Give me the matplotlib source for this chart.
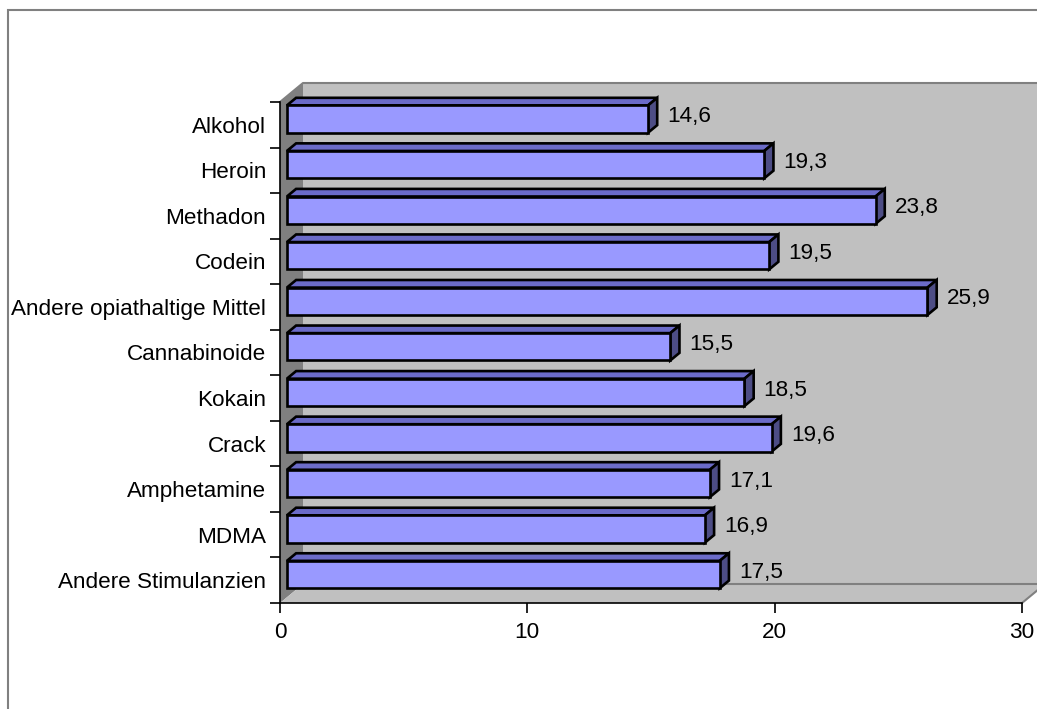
import matplotlib.pyplot as plt
import numpy as np
from matplotlib.patches import Polygon, Rectangle
from matplotlib.transforms import IdentityTransform

plt.rcParams['font.family'] = ['Liberation Sans', 'DejaVu Sans']

categories = ["Alkohol", "Heroin", "Methadon", "Codein", "Andere opiathaltige Mittel",
              "Cannabinoide", "Kokain", "Crack", "Amphetamine", "MDMA",
              "Andere Stimulanzien"]
values = [14.6, 19.3, 23.8, 19.5, 25.9, 15.5, 18.5, 19.6, 17.1, 16.9, 17.5]
xticks = [0, 10, 20, 30]

W, H = 1037, 709
fig = plt.figure(figsize=(W / 100, H / 100), dpi=100)
ax = fig.add_axes([280 / W, (H - 603) / H, (1022 - 280) / W, (603 - 102) / H])
n = len(categories)
ax.set_xlim(0, 30)
ax.set_ylim(n - 0.5, -0.5)
ax.patch.set_visible(False)

# depth offset of the 3D box (pixels)
DX, DY = 23, 19
FS = 16.2


def proj(v, c, d):
    x, y = ax.transData.transform((v, c))
    return (x + d * DX, y + d * DY)


def face(pts, color, ec, lw, z):
    p = Polygon([proj(*q) for q in pts], closed=True, facecolor=color,
                edgecolor=ec, linewidth=lw, transform=IdentityTransform(),
                zorder=z)
    p.set_clip_on(False)
    ax.add_patch(p)


lo, hi = -0.5, n - 0.5
# back wall, left wall, floor
face([(0, lo, 1), (30, lo, 1), (30, hi, 1), (0, hi, 1)], '#c0c0c0', 'none', 0, 0.1)
face([(0, lo, 0), (0, lo, 1), (0, hi, 1), (0, hi, 0)], '#808080', 'none', 0, 0.2)
face([(0, hi, 0), (0, hi, 1), (30, hi, 1), (30, hi, 0)], '#c0c0c0', 'none', 0, 0.2)
# wall edges
for pts in ([(0, lo, 0), (0, lo, 1), (30, lo, 1)],
            [(0, hi, 1), (30, hi, 1)],
            [(30, hi, 0), (30, hi, 1)]):
    xy = np.array([proj(*q) for q in pts])
    ax.plot(xy[:, 0], xy[:, 1], color='#808080', lw=1.5,
            transform=IdentityTransform(), clip_on=False, zorder=0.3)

d0, d1, hw = 0.3, 0.7, 0.3
for i, v in enumerate(values):
    t, b = i - hw, i + hw
    face([(0, t, d0), (0, t, d1), (v, t, d1), (v, t, d0)], '#6b6bc8', 'black', 1.9, 2)
    face([(v, t, d0), (v, t, d1), (v, b, d1), (v, b, d0)], '#4d4d85', 'black', 1.9, 2)
    face([(0, t, d0), (v, t, d0), (v, b, d0), (0, b, d0)], '#9999ff', 'black', 1.9, 2)
    ax.annotate(f"{v:.1f}".replace('.', ','), (v, i), xytext=(d1 * DX + 10, 0.42 * DY),
                textcoords='offset pixels', va='center', ha='left', fontsize=FS,
                annotation_clip=False)

for s in ['top', 'right']:
    ax.spines[s].set_visible(False)
for s in ['left', 'bottom']:
    ax.spines[s].set_linewidth(1.2)
    ax.spines[s].set_zorder(3)

ax.set_xticks(xticks)
ax.tick_params(axis='x', length=7.5, width=1.2, labelsize=FS, pad=6)
ax.set_yticks(range(n))
ax.set_yticklabels(categories)
ax.set_yticks(np.arange(-0.5, n, 1), minor=True)
ax.tick_params(axis='y', which='major', length=0, labelsize=FS, pad=10)
ax.tick_params(axis='y', which='minor', length=7.5, width=1.2)

# outer chart border
border = Rectangle((8 / W, -0.1), 1.2, (H - 10) / H + 0.1, transform=fig.transFigure,
                   facecolor='none', edgecolor='#808080', linewidth=1.5)
fig.add_artist(border)

fig.savefig('out.png', dpi=100)
